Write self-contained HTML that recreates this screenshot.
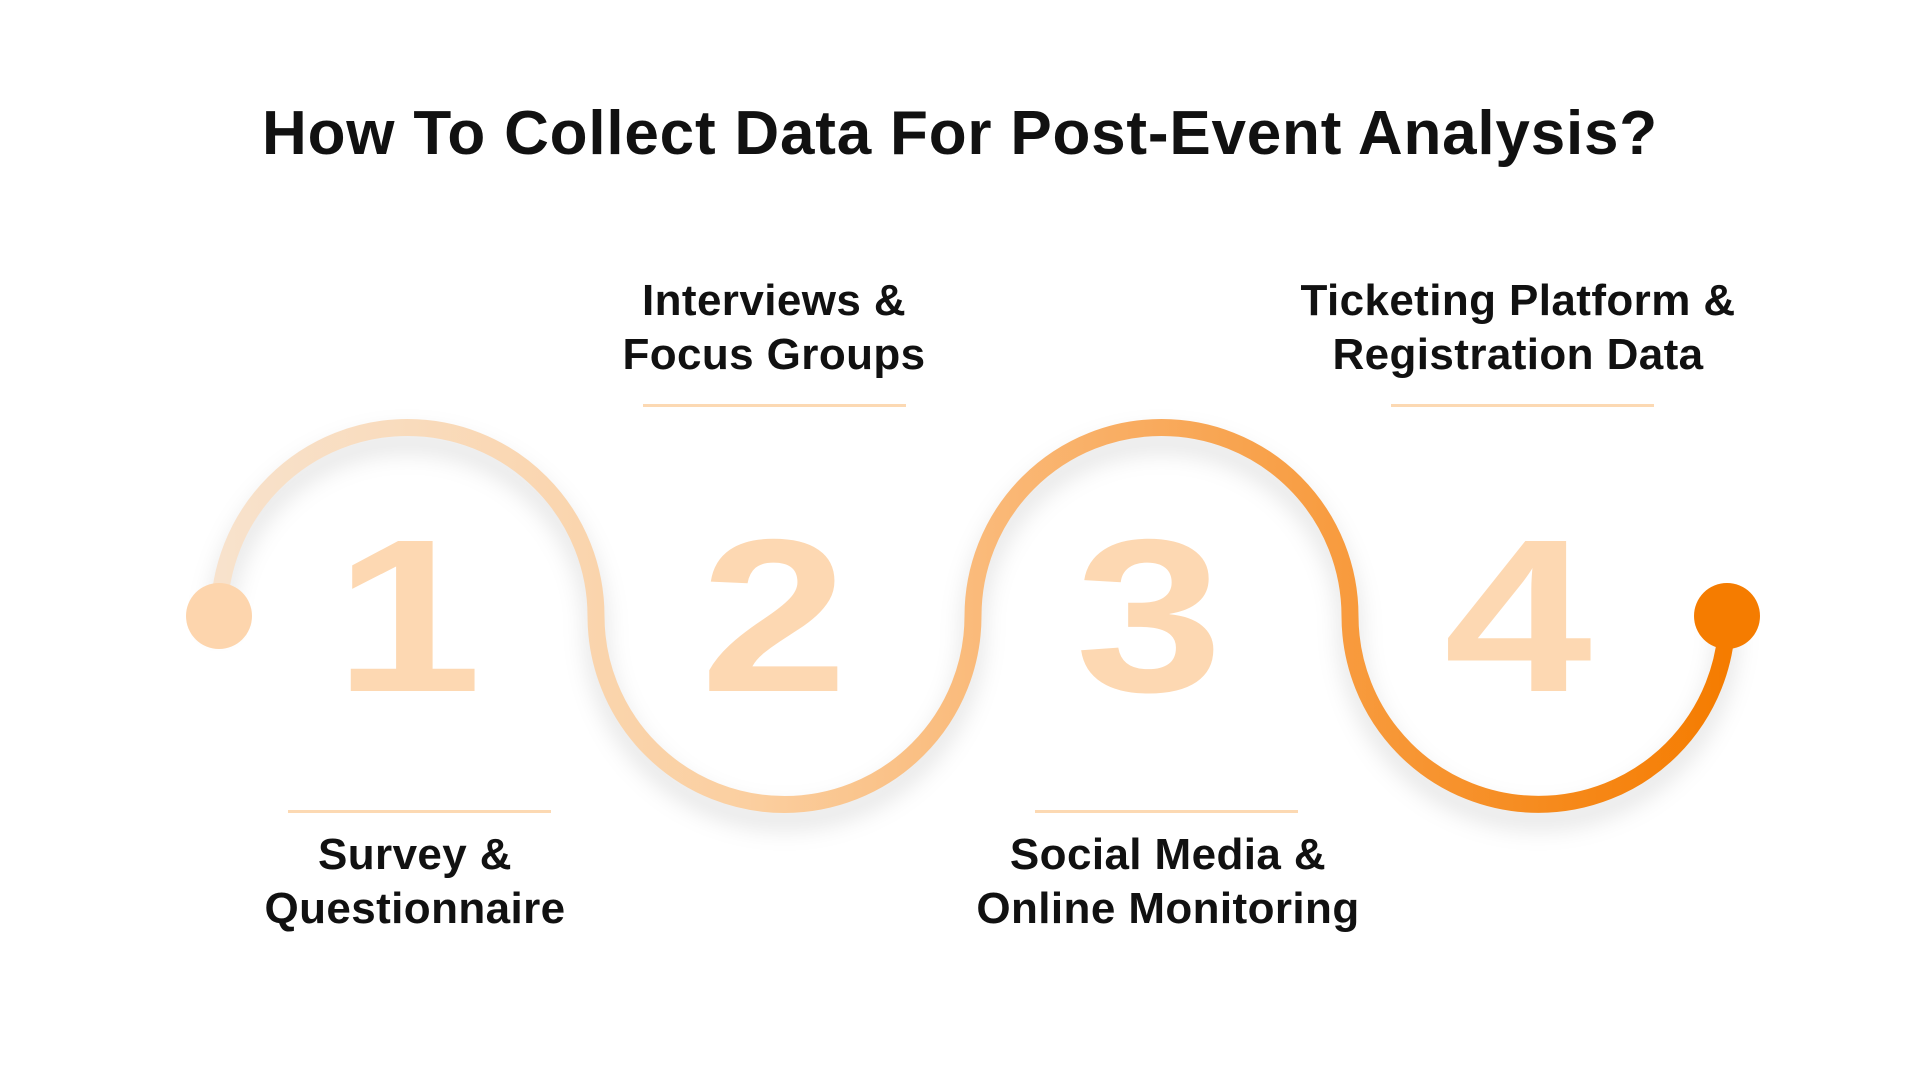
<!DOCTYPE html>
<html><head><meta charset="utf-8"><style>
body{margin:0;width:1920px;height:1080px;background:#fff;overflow:hidden;position:relative;font-family:"Liberation Sans",sans-serif}
.t{position:absolute;left:0;width:1920px;top:98px;text-align:center;font-size:62px;font-weight:bold;color:#111;letter-spacing:0.8px}
.l{position:absolute;width:600px;text-align:center;font-size:44px;font-weight:bold;color:#111;line-height:54px;letter-spacing:0.4px}
.d{position:absolute;height:3px;width:263px;background:#fcd9b3}
.n{position:absolute;width:300px;text-align:center;font-size:218px;font-weight:900;color:#fdd8b2;line-height:1;top:508px;transform:scaleX(1.22)}
</style></head><body>
<div class="t">How To Collect Data For Post-Event Analysis?</div>
<svg width="1920" height="1080" style="position:absolute;left:0;top:0">
<defs>
<linearGradient id="g" x1="219" y1="0" x2="1727" y2="0" gradientUnits="userSpaceOnUse">
<stop offset="0" stop-color="#f8e2cc"/><stop offset="0.35" stop-color="#fbcfa0"/><stop offset="0.6" stop-color="#f9ad62"/><stop offset="1" stop-color="#f57c00"/>
</linearGradient>
<filter id="s" x="-10%" y="-20%" width="120%" height="140%"><feGaussianBlur stdDeviation="12"/></filter>
</defs>
<path d="M219 616 A188.5 188.5 0 0 1 596 616 A188.5 188.5 0 0 0 973 616 A188.5 188.5 0 0 1 1350 616 A188.5 188.5 0 0 0 1727 616" fill="none" stroke="#000" stroke-opacity="0.12" stroke-width="18" filter="url(#s)" transform="translate(0,14)"/>
<path d="M219 616 A188.5 188.5 0 0 1 596 616 A188.5 188.5 0 0 0 973 616 A188.5 188.5 0 0 1 1350 616 A188.5 188.5 0 0 0 1727 616" fill="none" stroke="url(#g)" stroke-width="17"/>
<circle cx="219" cy="616" r="33" fill="#fdd5ad"/>
<circle cx="1727" cy="616" r="33" fill="#f57c00"/>
</svg>
<div class="n" style="left:258px">1</div>
<div class="n" style="left:624px">2</div>
<div class="n" style="left:999px">3</div>
<div class="n" style="left:1368px">4</div>
<div class="l" style="left:474px;top:274px">Interviews &amp;<br>Focus Groups</div>
<div class="d" style="left:643px;top:404px"></div>
<div class="l" style="left:1218px;top:274px">Ticketing Platform &amp;<br>Registration Data</div>
<div class="d" style="left:1391px;top:404px"></div>
<div class="d" style="left:288px;top:810px"></div>
<div class="l" style="left:115px;top:828px">Survey &amp;<br>Questionnaire</div>
<div class="d" style="left:1035px;top:810px"></div>
<div class="l" style="left:868px;top:828px">Social Media &amp;<br>Online Monitoring</div>
</body></html>
